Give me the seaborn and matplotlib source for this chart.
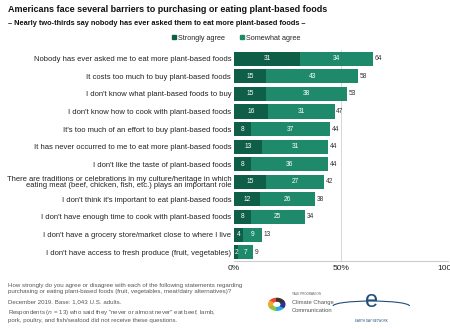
import matplotlib
matplotlib.use("Agg")
import matplotlib.pyplot as plt
import matplotlib.patches as mpatches
import seaborn as sns
import pandas as pd

categories = [
    "Nobody has ever asked me to eat more plant-based foods",
    "It costs too much to buy plant-based foods",
    "I don't know what plant-based foods to buy",
    "I don't know how to cook with plant-based foods",
    "It's too much of an effort to buy plant-based foods",
    "It has never occurred to me to eat more plant-based foods",
    "I don't like the taste of plant-based foods",
    "There are traditions or celebrations in my culture/heritage in which\neating meat (beef, chicken, fish, etc.) plays an important role",
    "I don't think it's important to eat plant-based foods",
    "I don't have enough time to cook with plant-based foods",
    "I don't have a grocery store/market close to where I live",
    "I don't have access to fresh produce (fruit, vegetables)",
]
strongly = [31, 15, 15, 16, 8, 13, 8, 15, 12, 8, 4, 2]
somewhat = [34, 43, 38, 31, 37, 31, 36, 27, 26, 25, 9, 7]
totals = [64, 58, 53, 47, 44, 44, 44, 42, 38, 34, 13, 9]
xticks = [0, 50, 100]
xticklabels = ["0%", "50%", "100%"]

dark = "#0f5e47"
light = "#1f8a6b"

df = pd.DataFrame({
    "cat": categories,
    "strong": strongly,
    "some": somewhat,
    "stack": [a + b for a, b in zip(strongly, somewhat)],
    "total": totals,
})

sns.set_theme(style="white")
plt.rcParams["font.family"] = ["Liberation Sans", "DejaVu Sans"]

fig = plt.figure(figsize=(4.5, 3.29), dpi=100)
ax = fig.add_axes([0.52, 0.207, 0.4756, 0.641])

sns.barplot(data=df, y="cat", x="stack", color=light, saturation=1, width=0.8,
            orient="h", ax=ax, edgecolor="none")
sns.barplot(data=df, y="cat", x="strong", color=dark, saturation=1, width=0.8,
            orient="h", ax=ax, edgecolor="none")

for i, (s, w, st, t) in enumerate(zip(df["strong"], df["some"], df["stack"], df["total"])):
    ax.text(s / 2, i, str(s), ha="center", va="center", color="white", fontsize=4.8)
    ax.text(s + w / 2, i, str(w), ha="center", va="center", color="white", fontsize=4.8)
    ax.text(st + 0.8, i, str(t), ha="left", va="center", color="#333333", fontsize=4.8)

ax.set_xlim(0, 100)
ax.set_ylim(11.5, -0.5)
ax.set_xticks(xticks)
ax.set_xticklabels(xticklabels, fontsize=6, color="#222222")
ax.set_yticks(range(len(categories)))
ax.set_yticklabels(categories, fontsize=5.5, color="#222222", linespacing=0.85)
ax.set_xlabel("")
ax.set_ylabel("")
ax.tick_params(axis="both", length=0, pad=2)
ax.tick_params(axis="x", pad=3)
for x in [50, 100]:
    ax.axvline(x, color="#d6d6d6", lw=0.7, zorder=0)
for sp in ["top", "right", "left"]:
    ax.spines[sp].set_visible(False)
ax.spines["bottom"].set_color("#cccccc")
ax.spines["bottom"].set_linewidth(0.8)

# Title and subtitle
fig.text(0.018, 0.972, "Americans face several barriers to purchasing or eating plant-based foods",
         fontsize=6.45, fontweight="bold", color="#111111", va="center")
fig.text(0.018, 0.928, "\u2013 Nearly two-thirds say nobody has ever asked them to eat more plant-based foods \u2013",
         fontsize=5.35, fontweight="bold", color="#111111", va="center")

# Legend
handles = [mpatches.Patch(color=dark, label="Strongly agree"),
           mpatches.Patch(color=light, label="Somewhat agree")]
fig.legend(handles=handles, loc="center", bbox_to_anchor=(0.525, 0.884), ncol=2,
           frameon=False, fontsize=5.2, handlelength=0.6, handleheight=0.6,
           handletextpad=0.3, columnspacing=2.0)

# Footer notes
foot = "#555555"
fig.text(0.018, 0.124, "How strongly do you agree or disagree with each of the following statements regarding\n"
         "purchasing or eating plant-based foods (fruit, vegetables, meat/dairy alternatives)?",
         fontsize=4.4, color=foot, va="center", linespacing=1.3)
fig.text(0.018, 0.082, "December 2019. Base: 1,043 U.S. adults.", fontsize=4.4, color=foot, va="center")
fig.text(0.018, 0.040, "Respondents ($n$ = 13) who said they \"never or almost never\" eat beef, lamb,\n"
         "pork, poultry, and fish/seafood did not receive these questions.",
         fontsize=4.4, color=foot, va="center", linespacing=1.3)

# Logos (approximate)
cols = ["#e8463c", "#f5a623", "#8dc63f", "#29abe2", "#2e3192"]
cx, cy = 0.615, 0.075
for k, c in enumerate(cols):
    w = mpatches.Wedge((cx, cy), 0.018, 90 + k * 60, 90 + (k + 1) * 60, width=0.008,
                       transform=fig.transFigure, color=c)
    fig.patches.append(w)
fig.patches.append(mpatches.Wedge((cx, cy), 0.018, 30, 90, width=0.008,
                                  transform=fig.transFigure, color="#333333"))
fig.text(0.648, 0.107, "YALE PROGRAM ON", fontsize=2.2, color="#555555", va="center")
fig.text(0.648, 0.082, "Climate Change", fontsize=4.2, color="#555555", va="center")
fig.text(0.648, 0.055, "Communication", fontsize=4.2, color="#555555", va="center")
fig.text(0.825, 0.085, "e", fontsize=17, color="#1f4e79", va="center", ha="center")
fig.patches.append(mpatches.Arc((0.825, 0.070), 0.17, 0.03, theta1=0, theta2=180,
                                transform=fig.transFigure, color="#1f4e79", lw=0.8))
fig.text(0.825, 0.025, "EARTH DAY NETWORK", fontsize=2.2, color="#1f4e79", ha="center", va="center")

fig.savefig("out.png", dpi=100, facecolor="white")
